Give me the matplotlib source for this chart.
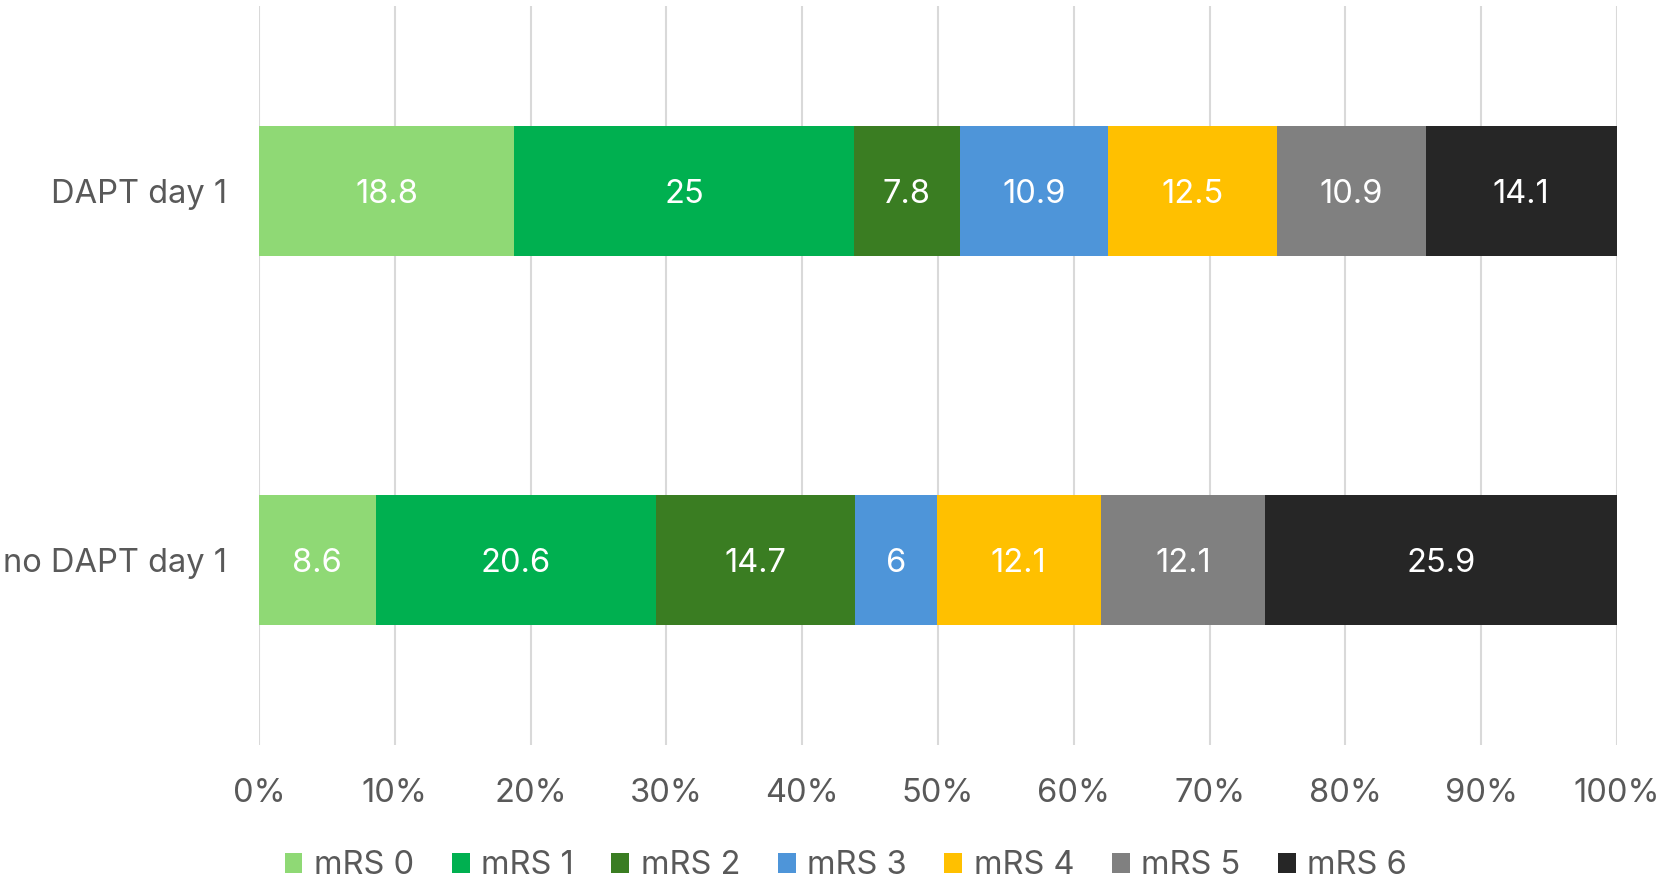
import matplotlib
matplotlib.use("Agg")
import matplotlib.pyplot as plt
from matplotlib.patches import Patch

categories = ["DAPT day 1", "no DAPT day 1"]
series_names = ["mRS 0", "mRS 1", "mRS 2", "mRS 3", "mRS 4", "mRS 5", "mRS 6"]
dapt_values = [18.8, 25, 7.8, 10.9, 12.5, 10.9, 14.1]
no_dapt_values = [8.6, 20.6, 14.7, 6, 12.1, 12.1, 25.9]
colors = ["#8FD975", "#00B050", "#3A7D22", "#4E95D9", "#FFC000", "#808080", "#262626"]
x_ticks = [0, 10, 20, 30, 40, 50, 60, 70, 80, 90, 100]
x_tick_labels = ["0%", "10%", "20%", "30%", "40%", "50%", "60%", "70%", "80%", "90%", "100%"]

plt.rcParams['font.family'] = ['Inter', 'DejaVu Sans']

fig = plt.figure(figsize=(16.65, 8.84), dpi=100)
ax = fig.add_axes([259/1665, 1-745/884, (1617-259)/1665, (745-6)/884])

values = [dapt_values, no_dapt_values]
ypos = list(range(len(categories)))
lefts = [0.0] * len(categories)
for i, name in enumerate(series_names):
    vals = [v[i] for v in values]
    bars = ax.barh(ypos, vals, left=lefts, height=0.352, color=colors[i], zorder=3)
    for j, b in enumerate(bars):
        ax.text(lefts[j] + vals[j] / 2, ypos[j], f"{vals[j]:g}", ha="center", va="center_baseline",
                color="white", fontsize=23.5, zorder=4)
    lefts = [l + v for l, v in zip(lefts, vals)]

ax.set_xlim(0, 100)
ax.set_ylim(1.5, -0.5)
ax.set_xticks(x_ticks)
ax.set_xticklabels(x_tick_labels)
ax.set_yticks(ypos)
ax.set_yticklabels(categories)
ax.tick_params(axis='both', length=0, labelsize=23.5, labelcolor="#595959")
ax.tick_params(axis='x', pad=24)
ax.tick_params(axis='y', pad=23)
ax.xaxis.grid(True, color="#D9D9D9", linewidth=1.5, zorder=0)
for s in ax.spines.values():
    s.set_visible(False)

handles = [Patch(facecolor=c, edgecolor='none') for c in colors]
fig.legend(handles, series_names, loc="center", bbox_to_anchor=(0.508, 1-866/884), ncol=7,
           frameon=False, fontsize=23.5, labelcolor="#595959", handlelength=0.55, handleheight=0.55,
           handletextpad=0.35, columnspacing=1.15)

fig.savefig("out.png", dpi=100, facecolor="white")
